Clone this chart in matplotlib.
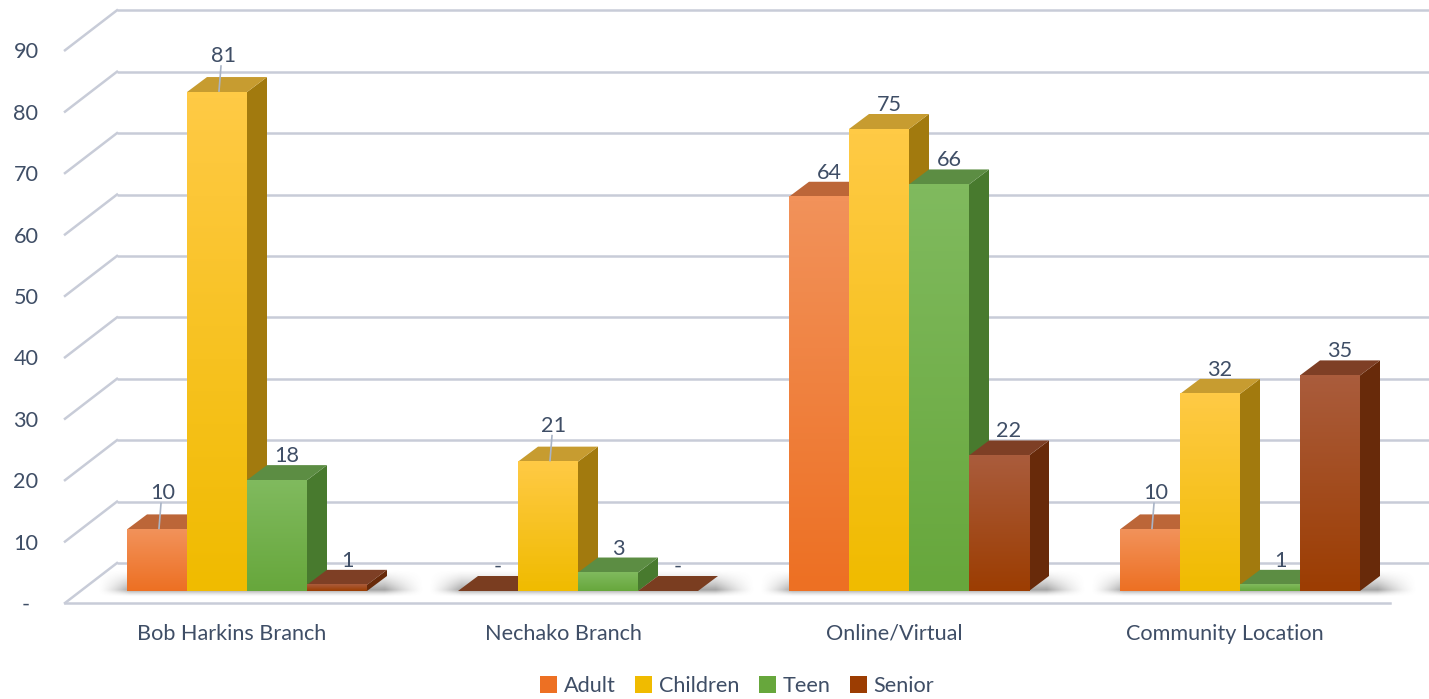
import numpy as np
import matplotlib
matplotlib.use('Agg')
import matplotlib.pyplot as plt
from matplotlib.colors import LinearSegmentedColormap
from matplotlib.patches import Polygon, Patch

plt.rcParams['font.family'] = ['Lato', 'DejaVu Sans']

# data
categories = ['Bob Harkins Branch', 'Nechako Branch', 'Online/Virtual', 'Community Location']
series = ['Adult', 'Children', 'Teen', 'Senior']
adult = [10, 0, 64, 10]
children = [81, 21, 75, 32]
teen = [18, 3, 66, 1]
senior = [1, 0, 22, 35]
yticks = [0, 10, 20, 30, 40, 50, 60, 70, 80, 90]
ytick_labels = ['-', '10', '20', '30', '40', '50', '60', '70', '80', '90']
# (series, category) labels that excel pushed up and tied with a leader line
leader_labels = [(1, 0), (0, 0), (1, 1), (0, 3)]

# colours per series: front top, front bottom, top face, side face
colors = {
    'Adult': ('#F2925A', '#ED7023', '#BC6638', '#B4561E'),
    'Children': ('#FFCA45', '#F0BB00', '#C79C30', '#A27A0E'),
    'Teen': ('#80BA5E', '#67A73C', '#5C8D43', '#487A2E'),
    'Senior': ('#AA5C3C', '#9C3D02', '#7E3F25', '#682A0A'),
}
text_col = '#3F4E66'
grid_col = '#C8CCD8'
FS = 15.6

# pixel geometry of the fake 3d box
W, H = 1429, 699
STEP = 331.0      # px between category centres
UNIT = 6.16       # px per value unit
X0 = 247.0        # px centre of first group
BASE = 591.0      # px (from top) of bar baseline
px_x = 1 / STEP
px_y = 1 / UNIT

fig = plt.figure(figsize=(W / 100, H / 100), dpi=100)
ax = fig.add_axes([0, 0, 1, 1])
ax.axis('off')
xl = (-X0 / STEP, (W - X0) / STEP)
yl = (-(H - BASE) / UNIT, BASE / UNIT)

bw = 60 * px_x
ddx, ddy = 20 * px_x, 15 * px_y

# back wall gridlines + left wall slants + tick labels
wall_left = (117 - X0) * px_x
wall_up = 28 * px_y
side_dx, side_dy = -52 * px_x, -40 * px_y
for v, lab in zip(yticks, ytick_labels):
    yb = v * 0.997 + wall_up
    ax.plot([wall_left, xl[1]], [yb, yb], color=grid_col, lw=1.8, zorder=1,
            solid_capstyle='butt')
    ax.plot([wall_left, wall_left + side_dx], [yb, yb + side_dy], color=grid_col,
            lw=1.8, zorder=1)
    ax.text((26 - X0) * px_x, yb + side_dy - 2 * px_y, lab, ha='center', va='center',
            fontsize=FS, color=text_col)

# front edge of floor
ax.plot([(65 - X0) * px_x, (1390 - X0) * px_x], [-12 * px_y, -12 * px_y],
        color=grid_col, lw=1.8, zorder=1)

# soft shadow sprite (alpha ramps)
sx = np.linspace(0, 1, 200)
sy = np.linspace(0, 1, 40)
ax_ramp = np.clip(np.minimum(sx / 0.1, (1 - sx) / 0.12), 0, 1) ** 1.5
ay_ramp = np.clip(np.minimum(sy / 0.25, (1 - sy) / 0.75), 0, 1) ** 1.5
shadow = np.zeros((40, 200, 4))
shadow[..., :3] = 0.35
shadow[..., 3] = 0.55 * np.outer(ay_ramp, ax_ramp)

values = [adult, children, teen, senior]
grad = np.linspace(0, 1, 64).reshape(-1, 1)
z = 10
for i in range(len(categories)):
    ax.imshow(shadow, extent=(i - 2 * bw - 30 * px_x, i + 2 * bw + ddx + 38 * px_x,
                              -6 * px_y, 22 * px_y),
              origin='lower', aspect='auto', zorder=2, interpolation='bilinear')
    for j, name in enumerate(series):
        h = values[j][i]
        ftop, fbot, ctop, cside = colors[name]
        x0 = i - 2 * bw + j * bw
        x1 = x0 + bw
        ax.add_patch(Polygon([(x1, 0), (x1 + ddx, ddy), (x1 + ddx, h + ddy), (x1, h)],
                             closed=True, color=cside, lw=0, zorder=z))
        ax.add_patch(Polygon([(x0, h), (x1, h), (x1 + ddx, h + ddy), (x0 + ddx, h + ddy)],
                             closed=True, color=ctop if h > 0 else '#7A3D20', lw=0, zorder=z + 1))
        if h > 0:
            cm = LinearSegmentedColormap.from_list(name, [fbot, ftop])
            ax.imshow(grad, extent=(x0, x1, 0, h), origin='lower', cmap=cm,
                      aspect='auto', zorder=z + 2, interpolation='bilinear')
        lab = '-' if h == 0 else str(h)
        lx = x0 + bw / 2 + ddx / 2
        ly = h + ddy + 3 * px_y
        if (j, i) in leader_labels:
            lx -= 4 * px_x
            ly += 12 * px_y
            ax.plot([lx - 2 * px_x, x0 + bw / 2 + 2 * px_x],
                    [ly - 4 * px_y, h + 1 * px_y], color='#A9B4C6', lw=1.2, zorder=99)
        ax.text(lx, ly, lab, ha='center', va='baseline', fontsize=FS, color=text_col,
                zorder=100)
        z += 3
    ax.text(i - 15 * px_x, -43 * px_y, categories[i], ha='center', va='center',
            fontsize=FS, color=text_col)

ax.set_xlim(*xl)
ax.set_ylim(*yl)

handles = [Patch(facecolor=colors[s][1], edgecolor='none') for s in series]
fig.legend(handles, series, loc='center', bbox_to_anchor=(737 / W, 1 - 686 / H),
           ncol=4, frameon=False, fontsize=FS, handlelength=0.8, handleheight=0.8,
           handletextpad=0.3, columnspacing=0.9, labelcolor=text_col)

fig.savefig('out.png', dpi=100)
